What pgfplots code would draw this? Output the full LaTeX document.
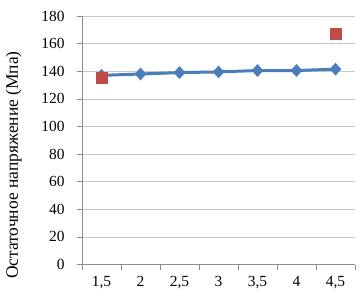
\documentclass[border=0pt]{standalone}
\usepackage{pgfplots}
\pgfplotsset{compat=1.18}
\usepackage{fontspec}
\setmainfont{Liberation Serif}
\definecolor{exblue}{HTML}{4A7EBB}
\definecolor{exred}{HTML}{BE4B48}
\definecolor{gridc}{HTML}{C8C8C8}
\definecolor{axisc}{HTML}{8C8C8C}
\begin{document}
\begin{tikzpicture}[x=1bp,y=1bp]
\path[use as bounding box] (-82,-32.5) rectangle (278,264.5);
\begin{axis}[
  at={(0,0)}, anchor=south west,
  scale only axis, width=273bp, height=248.5bp,
  xmin=0.5, xmax=7.5, ymin=0, ymax=180,
  axis x line*=bottom, axis y line*=left,
  axis line style={axisc, line width=0.6pt, -},
  xtick={1,...,7},
  xticklabels={{1,5},2,{2,5},3,{3,5},4,{4,5}},
  major x tick style={draw=none},
  minor xtick={0.5,1.5,...,7.5},
  minor x tick style={axisc, line width=0.6pt},
  minor tick length=5bp,
  ytick={0,20,...,180},
  ymajorgrids,
  grid style={gridc, line width=0.6pt},
  major y tick style={axisc, line width=0.6pt},
  major tick length=5bp,
  tick align=outside,
  /pgf/number format/assume math mode=true,
  ticklabel style={font=\fontsize{15.5}{18}\selectfont, text=black},
  yticklabel style={xshift=-9bp},
  xticklabel style={yshift=-3bp},
  ylabel={Остаточное напряжение (Мпа)},
  ylabel style={font=\fontsize{17.5}{20}\selectfont, at={(axis description cs:-0.25,0.40)}, anchor=center, rotate=0},
  clip=false,
]
\addplot[exblue, line width=3bp, mark=diamond*, mark size=6bp, mark options={fill=exblue, draw=exblue, line width=0.5bp, xscale=1.2}]
  coordinates {(1,137) (2,138) (3,139) (4,139.5) (5,140.5) (6,140.5) (7,141.5)};
\addplot[only marks, mark=square*, mark size=5.5bp, mark options={fill=exred, draw=exred}]
  coordinates {(1,135) (7,167.5)};
\end{axis}
\end{tikzpicture}
\end{document}
